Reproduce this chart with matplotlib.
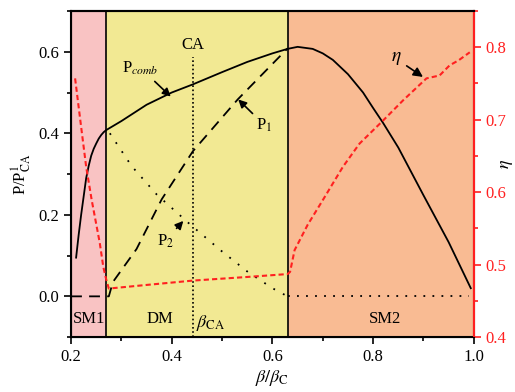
import matplotlib
matplotlib.use("Agg")
import matplotlib.pyplot as plt

plt.rcParams['font.family'] = ['Liberation Serif', 'DejaVu Serif']
plt.rcParams['mathtext.fontset'] = 'stix'

# regime boundaries
b_sm1 = 0.27
b_dm = 0.63
b_ca = 0.442

# P_comb (solid)
comb_x = [0.21, 0.215, 0.22, 0.225, 0.23, 0.235, 0.24, 0.245, 0.25, 0.255, 0.26, 0.265, 0.27,
          0.30, 0.35, 0.40, 0.442, 0.50, 0.55, 0.60, 0.63,
          0.65, 0.68, 0.70, 0.72, 0.75, 0.78, 0.80, 0.82, 0.85, 0.90, 0.95, 0.994]
comb_y = [0.095, 0.15, 0.20, 0.245, 0.29, 0.32, 0.345, 0.362, 0.375, 0.387, 0.396, 0.403, 0.408,
          0.43, 0.47, 0.50, 0.52, 0.55, 0.575, 0.596, 0.607,
          0.612, 0.607, 0.596, 0.58, 0.545, 0.50, 0.462, 0.425, 0.365, 0.248, 0.133, 0.02]

# P1 (dashed)
p1_x = [0.2, 0.27, 0.275, 0.283, 0.33, 0.38, 0.442, 0.531, 0.63]
p1_y = [0.0, 0.0, 0.0, 0.035, 0.116, 0.238, 0.356, 0.483, 0.608]

# P2 (dotted)
p2_x = [0.277, 0.32, 0.37, 0.436, 0.50, 0.551, 0.60, 0.63, 0.63, 0.99]
p2_y = [0.40, 0.32, 0.25, 0.177, 0.11, 0.06, 0.02, 0.0, 0.0, 0.0]

# efficiency eta (right axis)
eta_x = [0.208, 0.22, 0.23, 0.241, 0.257, 0.264, 0.27, 0.275, 0.35, 0.442, 0.55, 0.63,
         0.635, 0.644, 0.67, 0.70, 0.74, 0.773, 0.82, 0.86, 0.906, 0.932, 0.952, 0.97, 0.992]
eta_y = [0.757, 0.69, 0.635, 0.589, 0.53, 0.497, 0.479, 0.467, 0.472, 0.478, 0.483, 0.487,
         0.49, 0.52, 0.555, 0.589, 0.635, 0.667, 0.699, 0.727, 0.757, 0.761, 0.775, 0.782, 0.793]

fig = plt.figure(figsize=(5.15, 3.92), dpi=100)
ax = fig.add_axes([0.138, 0.140, 0.782, 0.832])

ax.axvspan(0.2, b_sm1, color='#F9C3C3', lw=0)
ax.axvspan(b_sm1, b_dm, color='#F2E993', lw=0)
ax.axvspan(b_dm, 1.0, color='#F9BB93', lw=0)
ax.axvline(b_sm1, color='black', lw=1.2)
ax.axvline(b_dm, color='black', lw=1.2)
ax.plot([b_ca, b_ca], [-0.1, 0.588], color='black', lw=1.2, ls=(0, (1, 1.5)))

ax.plot(comb_x, comb_y, color='black', lw=1.3)
ax.plot(p1_x, p1_y, color='black', lw=1.3, ls=(0, (6, 4)))
ax.plot(p2_x[:8], p2_y[:8], color='black', lw=1.3, ls=(0, (1, 5)))
ax.plot(p2_x[8:], p2_y[8:], color='black', lw=1.3, ls=(0, (1, 4)))

ax.set_xlim(0.2, 1.0)
ax.set_ylim(-0.1, 0.7)
ax.set_xticks([0.2, 0.4, 0.6, 0.8, 1.0])
ax.set_xticks([0.3, 0.5, 0.7, 0.9], minor=True)
ax.set_yticks([0.0, 0.2, 0.4, 0.6])
ax.set_yticks([-0.1, 0.1, 0.3, 0.5, 0.7], minor=True)
ax.tick_params(which='both', direction='out', labelsize=12, width=1.2)
ax.tick_params(which='major', length=5)
ax.tick_params(which='minor', length=3)
ax.set_xlabel(r'$\beta/\beta_{\rm C}$', fontsize=13, labelpad=2)
ax.set_ylabel(r'P/P$^{1}_{\rm CA}$', fontsize=12, labelpad=4)
for s in ax.spines.values():
    s.set_linewidth(1.5)

ax2 = ax.twinx()
ax2.plot(eta_x, eta_y, color='#FF2020', lw=1.5, ls=(0, (2.5, 1.5)))
ax2.set_ylim(0.4, 0.85)
ax2.set_yticks([0.4, 0.5, 0.6, 0.7, 0.8])
ax2.set_yticks([0.45, 0.55, 0.65, 0.75, 0.85], minor=True)
ax2.tick_params(which='both', direction='out', colors='#FF2020', labelsize=12, width=1.2)
ax2.tick_params(which='major', length=5)
ax2.tick_params(which='minor', length=3)
ax2.spines['right'].set_color('#FF2020')
ax2.spines['right'].set_linewidth(1.5)
ax2.spines['top'].set_linewidth(1.5)
ax2.set_ylabel(r'$\eta$', fontsize=13)
ax2.yaxis.set_label_coords(1.06, 0.53)

# annotations
ax.annotate(r'P$_{comb}$', xy=(0.398, 0.49), xytext=(0.302, 0.56), fontsize=12, va='center',
            arrowprops=dict(arrowstyle='-|>', color='black', lw=1.2, shrinkA=2, shrinkB=0))
ax.text(b_ca, 0.617, 'CA', fontsize=12, ha='center', va='center')
ax.annotate(r'P$_1$', xy=(0.532, 0.483), xytext=(0.568, 0.42), fontsize=12, va='center',
            arrowprops=dict(arrowstyle='-|>', color='black', lw=1.2, shrinkA=1, shrinkB=0))
ax.annotate(r'P$_2$', xy=(0.423, 0.185), xytext=(0.37, 0.136), fontsize=12, va='center',
            arrowprops=dict(arrowstyle='-|>', color='black', lw=1.2, shrinkA=1, shrinkB=0))
ax2.annotate(r'$\eta$', xy=(0.899, 0.759), xytext=(0.846, 0.784), fontsize=14, ha='center', va='center',
             arrowprops=dict(arrowstyle='-|>', color='black', lw=1.2, shrinkA=2, shrinkB=0))
ax.text(0.236, -0.056, 'SM1', fontsize=12, ha='center', va='center')
ax.text(0.377, -0.056, 'DM', fontsize=12, ha='center', va='center')
ax.text(b_ca + 0.006, -0.066, r'$\beta_{\rm CA}$', fontsize=13, ha='left', va='center')
ax.text(0.823, -0.056, 'SM2', fontsize=12, ha='center', va='center')

fig.savefig('out.png', dpi=100)
